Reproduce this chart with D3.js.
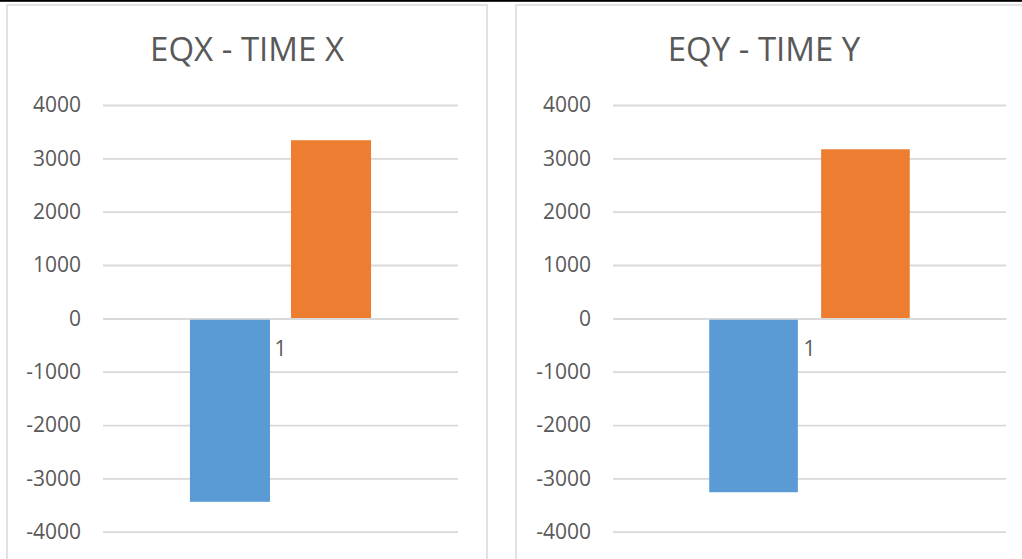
<!DOCTYPE html>
<html>
<head>
<meta charset="utf-8">
<script src="https://cdn.jsdelivr.net/npm/d3@7"></script>
<style>
  html, body { margin: 0; padding: 0; background: #fff; }
  svg { display: block; font-family: "Open Sans", sans-serif; }
</style>
</head>
<body>
<svg id="chart" width="1022" height="559"></svg>
<script>
// Chart data
const categories = ["1"];
const seriesKeys = ["s1", "s2"];
const seriesColors = ["#5B9BD5", "#ED7D31"];
const titles = ["EQX - TIME X", "EQY - TIME Y"];
const eqxValues = [-3440, 3340];
const eqyValues = [-3260, 3170];
const yTicks = [-4000, -3000, -2000, -1000, 0, 1000, 2000, 3000, 4000];

// Panel geometry
const panels = [
  { values: eqxValues, title: titles[0], box: [7, 5, 480, 600], plot: [103, 458], titleX: 247 },
  { values: eqyValues, title: titles[1], box: [516, 5, 540, 600], plot: [613, 1006], titleX: 764 }
];
const yRange = [531.7, 105];

const svg = d3.select("#chart");

// thin black rule along the top edge
svg.append("rect").attr("x", 0).attr("y", 0).attr("width", 1022).attr("height", 1.8).attr("fill", "#000");

const y = d3.scaleLinear().domain([-4000, 4000]).range(yRange);

panels.forEach(p => {
  const g = svg.append("g");

  // chart-area frame
  g.append("rect")
    .attr("x", p.box[0]).attr("y", p.box[1])
    .attr("width", p.box[2]).attr("height", p.box[3])
    .attr("fill", "#fff").attr("stroke", "#d9d9d9").attr("stroke-width", 1.5);

  // title
  g.append("text")
    .attr("x", p.titleX).attr("y", 61)
    .attr("text-anchor", "middle")
    .attr("font-size", 33)
    .attr("fill", "#595959")
    .text(p.title);

  const [x0, x1] = p.plot;
  const xCat = d3.scaleBand().domain(categories).range([x0, x1]).paddingInner(0).paddingOuter(0.48);
  const xSer = d3.scaleBand().domain(seriesKeys).range([0, xCat.bandwidth()]).paddingInner(0.208).paddingOuter(0);

  // value axis with gridlines (plain hyphen for negatives)
  const yAxis = d3.axisLeft(y).tickValues(yTicks).tickSize(-(x1 - x0)).tickPadding(22).tickFormat(d => String(d));
  const ya = g.append("g").attr("transform", `translate(${x0},0)`).call(yAxis);
  ya.select(".domain").remove();
  ya.selectAll(".tick line").attr("stroke", "#d9d9d9").attr("stroke-width", 1.8);
  ya.selectAll(".tick text").attr("font-size", 21).attr("fill", "#595959").attr("font-family", "Open Sans, sans-serif");

  // bars
  const rows = categories.map(c => ({ cat: c, vals: seriesKeys.map((k, i) => ({ key: k, value: p.values[i], color: seriesColors[i] })) }));
  g.selectAll(".cat").data(rows).join("g")
    .attr("transform", d => `translate(${xCat(d.cat)},0)`)
    .selectAll("rect").data(d => d.vals).join("rect")
      .attr("x", d => xSer(d.key))
      .attr("width", xSer.bandwidth())
      .attr("y", d => y(Math.max(0, d.value)))
      .attr("height", d => Math.abs(y(d.value) - y(0)))
      .attr("fill", d => d.color);

  // category axis at zero
  const xAxis = d3.axisBottom(xCat).tickSize(0).tickPadding(23).tickSizeOuter(0);
  const xa = g.append("g").attr("transform", `translate(0,${y(0)})`).call(xAxis);
  xa.select(".domain").attr("stroke", "#d9d9d9").attr("stroke-width", 1.8);
  xa.selectAll(".tick text").attr("font-size", 21).attr("fill", "#595959").attr("font-family", "Open Sans, sans-serif");
});
</script>
</body>
</html>
